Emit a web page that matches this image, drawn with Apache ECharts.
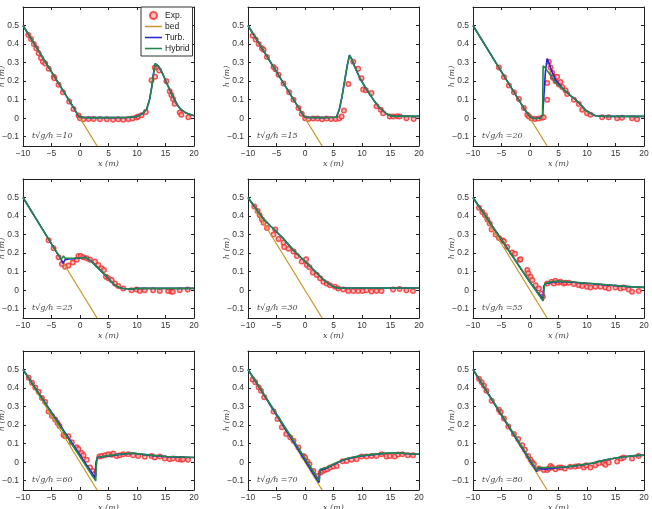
<!DOCTYPE html>
<html>
<head>
<meta charset="utf-8">
<script src="https://cdn.jsdelivr.net/npm/echarts@6/dist/echarts.min.js"></script>
<style>
  html,body{margin:0;padding:0;background:#fff;}
  #chart{width:652px;height:509px;}
</style>
</head>
<body>
<div id="chart"></div>
<script>
// time labels t*sqrt(g/h) for the 9 panels
var times = [10, 15, 20, 25, 30, 55, 60, 70, 80];
var xTicks = [-10, -5, 0, 5, 10, 15, 20];
var yTicks = [-0.1, 0, 0.1, 0.2, 0.3, 0.4, 0.5];

// sloping bed
var bed = [[-10, 0.5], [3, -0.15]];

// ---- hybrid model ----
var hyb10 = [[-10,0.5],[-5,0.25],[-1,0.05],[-0.3,0.012],[0.3,0.004],[2,0.003],[5,0.003],[8,0.004],[9,0.006],[10,0.01],[11,0.025],[11.7,0.05],[12.2,0.1],[12.6,0.17],[12.9,0.24],[13.2,0.295],[13.4,0.298],[13.8,0.28],[14.5,0.24],[15.2,0.19],[15.8,0.15],[16.4,0.11],[17,0.075],[17.6,0.05],[18.5,0.03],[20,0.013]];
var hyb15 = [[-10,0.5],[-5,0.25],[-1,0.05],[-0.2,0.01],[0.3,0.004],[3,0.003],[5.5,0.005],[6,0.045],[6.5,0.118],[7,0.209],[7.4,0.282],[7.8,0.34],[8.2,0.318],[8.8,0.273],[9.6,0.218],[10.8,0.155],[12,0.1],[13.1,0.055],[14.3,0.024],[15.2,0.011],[20,0.01]];
var hyb20 = [[-10,0.5],[-5,0.25],[-1,0.05],[0,0.008],[0.5,0],[1,-0.002],[1.8,0.002],[2.2,0.012],[2.3,0.282],[2.7,0.27],[3.5,0.235],[4.5,0.19],[5.5,0.165],[6.2,0.145],[7,0.125],[8,0.1],[9,0.07],[9.7,0.045],[10.5,0.028],[11.5,0.013],[13,0.01],[20,0.01]];
var hyb25 = [[-10,0.5],[-6,0.3],[-4,0.2],[-3.3,0.165],[-2.9,0.185],[-2.6,0.172],[-2,0.172],[-1,0.172],[0,0.174],[0.9,0.178],[2,0.155],[2.9,0.127],[3.8,0.1],[4.7,0.073],[5.5,0.045],[6.1,0.027],[7,0.013],[7.6,0.009],[9.3,0.006],[10,0.01],[20,0.01]];
var hyb30 = [[-10,0.5],[-7.3,0.385],[-6,0.345],[-4,0.285],[-2,0.215],[0,0.155],[1,0.125],[2,0.095],[3,0.063],[4,0.038],[5,0.018],[6,0.011],[8,0.012],[20,0.012]];
var hyb55 = [[-10,0.5],[-5,0.272],[0,0.043],[2.3,-0.058],[2.45,0],[2.6,0.036],[3.6,0.045],[5,0.049],[7.4,0.044],[10.9,0.036],[14.4,0.027],[17.9,0.018],[20,0.015]];
var hyb60 = [[-10,0.5],[2.76,-0.101],[2.85,-0.02],[3.05,0.025],[4.7,0.034],[7,0.043],[9.3,0.049],[12.3,0.038],[15.2,0.031],[20,0.025]];
var hyb70 = [[-10,0.5],[2.52,-0.1],[2.64,-0.038],[3.8,-0.029],[5.55,-0.002],[7.3,0.02],[9.6,0.034],[12,0.042],[14.3,0.049],[16.6,0.049],[20,0.043]];
var hyb80 = [[-10,0.5],[1.27,-0.047],[1.44,-0.029],[3.9,-0.029],[6.2,-0.025],[8.6,-0.016],[10.9,-0.005],[13.2,0.013],[15.6,0.025],[17.9,0.034],[20,0.038]];

// ---- turbulent model (hidden under hybrid where they agree) ----
var turb10 = hyb10;
var turb15 = hyb15;
var turb20 = [[-10,0.5],[-5,0.25],[-1,0.05],[0,0.008],[0.5,0],[1,-0.002],[1.8,0.002],[2.2,0.012],[2.4,0.1],[2.7,0.25],[3,0.322],[3.3,0.3],[3.8,0.255],[4.5,0.205],[5.5,0.168],[6.2,0.147],[7,0.125],[8,0.1],[9,0.07],[9.7,0.045],[10.5,0.028],[11.5,0.013],[13,0.01],[20,0.01]];
var turb25 = [[-10,0.5],[-6,0.3],[-4,0.2],[-3.3,0.165],[-3,0.145],[-2.6,0.165],[-2,0.168],[-1,0.17],[0,0.174],[0.9,0.178],[2,0.155],[2.9,0.127],[3.8,0.1],[4.7,0.073],[5.5,0.045],[6.1,0.027],[7,0.013],[7.6,0.009],[9.3,0.006],[10,0.01],[20,0.01]];
var turb30 = hyb30;
var turb55 = [[-10,0.5],[-5,0.272],[0,0.043],[2.3,-0.05],[2.4,0.02],[2.6,0.033],[3.6,0.042],[5,0.047],[7.4,0.043],[10.9,0.035],[14.4,0.026],[17.9,0.018],[20,0.015]];
var turb60 = [[-10,0.5],[2.64,-0.084],[2.8,0],[3.05,0.027],[4.7,0.033],[7,0.042],[9.3,0.048],[12.3,0.037],[15.2,0.03],[20,0.025]];
var turb70 = [[-10,0.5],[2.45,-0.11],[2.6,-0.045],[3.8,-0.032],[5.55,-0.005],[7.3,0.018],[9.6,0.033],[12,0.041],[14.3,0.048],[16.6,0.048],[20,0.043]];
var turb80 = [[-10,0.5],[1.2,-0.05],[1.4,-0.034],[2.7,-0.038],[4,-0.033],[6.2,-0.027],[8.6,-0.017],[10.9,-0.006],[13.2,0.012],[15.6,0.025],[17.9,0.034],[20,0.038]];

// ---- experiment ----
var exp10 = [[-9.07,0.449],[-8.6,0.427],[-8.1,0.4],[-7.67,0.378],[-7.26,0.35],[-6.85,0.325],[-6.5,0.305],[-6.1,0.295],[-5.5,0.267],[-4.6,0.224],[-4.5,0.216],[-3.77,0.18],[-3,0.14],[-1.9,0.09],[-1.15,0.05],[-0.27,0.015],[0,0],[0.6,-0.005],[1.5,-0.004],[2.4,-0.004],[3.5,-0.005],[4.7,-0.005],[5.8,-0.009],[6.7,-0.005],[7.6,-0.009],[8.5,-0.005],[9.2,-0.002],[9.9,0.004],[10.2,0.009],[10.8,0.016],[11.55,0.033],[12.54,0.205],[13.18,0.224],[13.12,0.273],[13.88,0.258],[15.16,0.2],[15.74,0.145],[16.03,0.125],[16.32,0.104],[16.6,0.078],[17.5,0.031],[17.78,0.018],[19,0.005]];
var exp15 = [[-9.18,0.445],[-8.66,0.424],[-8.14,0.4],[-7.55,0.378],[-7.26,0.369],[-6.68,0.33],[-5.52,0.276],[-5.17,0.264],[-4.64,0.235],[-3.77,0.187],[-2.78,0.14],[-2.02,0.1],[-1.15,0.055],[-0.57,0.024],[0.02,0],[0.6,-0.004],[1.4,-0.002],[2.2,-0.002],[3,-0.005],[3.8,-0.002],[4.6,-0.004],[5.4,-0.004],[6,-0.002],[6.42,0.009],[6.83,0.042],[7.6,0.185],[8.46,0.305],[9.33,0.267],[9.91,0.215],[10.2,0.155],[10.67,0.151],[11.66,0.136],[12.54,0.064],[13.3,0.045],[13.7,0.027],[14.87,0.009],[15.45,0.009],[16.2,0.011],[16.6,0.009],[17.8,0],[19.06,-0.004]];
var exp20 = [[-5.45,0.273],[-4.57,0.222],[-3.7,0.176],[-2.82,0.14],[-1.94,0.104],[-1.07,0.055],[-0.48,0.018],[-0.19,0.009],[0.3,-0.002],[0.9,-0.004],[1.5,-0.002],[2.1,0.002],[2.4,0.005],[3.02,0.1],[3.02,0.19],[3.31,0.305],[3.6,0.273],[3.9,0.245],[4,0.218],[4.18,0.224],[4.48,0.2],[4.77,0.224],[5.06,0.182],[5.35,0.195],[5.65,0.169],[6.23,0.151],[6.52,0.131],[7.69,0.1],[8.56,0.076],[9.15,0.045],[10,0.027],[10.6,0.018],[12.65,0.005],[13.8,0.005],[15.28,0],[16.15,0.002],[17.9,0],[18.78,-0.005]];
var exp25 = [[-5.52,0.269],[-4.64,0.227],[-3.77,0.178],[-3.19,0.142],[-2.6,0.127],[-2.02,0.133],[-1.26,0.149],[-0.57,0.164],[-0.27,0.185],[0.13,0.185],[0.6,0.178],[1.18,0.173],[1.76,0.164],[2.64,0.155],[3.22,0.136],[3.8,0.118],[4.2,0.109],[4.56,0.073],[4.97,0.064],[5.55,0.055],[6.13,0.036],[6.72,0.022],[7.59,0.009],[9.04,0],[9.9,0.004],[10.5,-0.004],[11.37,0],[12.83,0],[14,-0.004],[15.45,-0.004],[16.03,-0.007],[16.3,-0.009],[17.5,0],[18.9,0.004]];
var exp30 = [[-8.9,0.451],[-8.31,0.427],[-7.96,0.405],[-7.55,0.382],[-7.26,0.364],[-6.68,0.336],[-5.52,0.3],[-5.22,0.327],[-4.64,0.276],[-3.77,0.258],[-3.65,0.233],[-2.9,0.224],[-2.02,0.209],[-1.44,0.185],[-0.57,0.155],[0.19,0.167],[0.31,0.136],[0.77,0.124],[1.36,0.095],[2.06,0.082],[2.64,0.064],[3.22,0.045],[3.8,0.036],[4.39,0.027],[5.26,0.018],[5.84,0.009],[6.72,0.004],[7.59,-0.004],[8.46,-0.004],[9.34,-0.004],[10.1,-0.004],[10.8,0],[11.67,-0.007],[12.54,-0.004],[13.41,-0.004],[15.45,0.004],[16.6,0.007],[17.78,0],[18.95,-0.004]];
var exp55 = [[-8.95,0.445],[-8.37,0.422],[-7.9,0.404],[-7.49,0.382],[-7.08,0.36],[-6.73,0.327],[-6.03,0.3],[-5.45,0.282],[-4.86,0.269],[-4.57,0.264],[-3.99,0.233],[-3.11,0.204],[-2.64,0.196],[-1.83,0.164],[-1.65,0.167],[-0.48,0.109],[-0.31,0.091],[0.1,0.073],[0.39,0.055],[0.98,0.027],[1.56,0.009],[2.03,-0.018],[2.26,-0.036],[3.02,0.036],[3.78,0.045],[4.19,0.036],[4.48,0.051],[4.95,0.04],[5.35,0.045],[5.94,0.036],[6.23,0.04],[6.81,0.04],[7.69,0.033],[8.56,0.027],[9.15,0.022],[10.02,0.018],[10.6,0.015],[11.48,0.018],[12.36,0.018],[13.23,0.015],[13.82,0.009],[14.98,0.015],[15.86,0.009],[16.44,0.015],[17.32,0.004],[17.9,-0.009],[19.07,-0.004]];
var exp60 = [[-9,0.456],[-8.43,0.429],[-7.85,0.403],[-7.26,0.38],[-6.68,0.347],[-6.1,0.325],[-5.52,0.274],[-4.93,0.249],[-4.35,0.231],[-3.94,0.212],[-3.6,0.195],[-2.9,0.147],[-2.6,0.14],[-2.02,0.14],[-1.44,0.107],[-0.57,0.08],[-0.27,0.071],[0.3,0.049],[0.6,0.038],[1.18,0.013],[1.76,-0.029],[2.23,-0.047],[2.46,-0.065],[3.4,0.031],[3.8,0.034],[4.39,0.038],[4.97,0.043],[5.55,0.04],[5.84,0.047],[6.42,0.034],[7,0.038],[7.59,0.043],[8.46,0.043],[9.34,0.038],[10.2,0.034],[11.37,0.029],[12.54,0.034],[13.12,0.025],[14,0.031],[14.87,0.02],[15.74,0.016],[16.32,0.02],[17.2,0.016],[17.78,0.013],[18.07,0.016],[18.95,0.013]];
var exp70 = [[-9.18,0.446],[-8.72,0.431],[-8.14,0.404],[-7.73,0.386],[-7.15,0.35],[-5.52,0.273],[-4.82,0.233],[-4.06,0.188],[-3.3,0.152],[-2.6,0.134],[-2.02,0.116],[-1.15,0.079],[-0.27,0.034],[0.02,0.025],[0.43,0.004],[0.77,-0.011],[1.47,-0.047],[2.06,-0.074],[2.75,-0.056],[3.1,-0.047],[3.51,-0.042],[3.92,-0.038],[4.39,-0.029],[4.97,-0.023],[5.55,-0.02],[6.6,0.005],[7.3,0.007],[8.17,0.013],[9.04,0.016],[9.92,0.031],[10.8,0.031],[11.67,0.034],[12.54,0.034],[13.41,0.043],[14.29,0.031],[14.87,0.034],[15.74,0.031],[16.32,0.042],[17.08,0.043],[18.07,0.038],[18.95,0.038]];
var exp80 = [[-8.95,0.45],[-8.48,0.431],[-8.07,0.413],[-7.66,0.386],[-6.73,0.332],[-5.45,0.283],[-5.15,0.269],[-4.57,0.236],[-3.81,0.193],[-2.82,0.152],[-2.06,0.125],[-1.36,0.092],[-0.89,0.067],[-0.31,0.034],[0.1,0.013],[0.39,-0.002],[0.68,-0.011],[1.56,-0.034],[2.43,-0.042],[3.02,-0.042],[3.31,-0.034],[3.6,-0.02],[3.9,-0.029],[4.48,-0.038],[5.06,-0.029],[5.53,-0.029],[6.11,-0.034],[7.1,-0.025],[7.98,-0.023],[8.56,-0.02],[9.44,-0.029],[9.85,-0.016],[10.6,-0.029],[11.48,-0.016],[12.07,-0.005],[12.94,-0.005],[13.23,-0.014],[13.82,-0.002],[15.28,0.004],[16.04,0.02],[16.44,0.025],[17.9,0.02],[19.07,0.034]];

var hybAll = [hyb10, hyb15, hyb20, hyb25, hyb30, hyb55, hyb60, hyb70, hyb80];
var turbAll = [turb10, turb15, turb20, turb25, turb30, turb55, turb60, turb70, turb80];
var expAll = [exp10, exp15, exp20, exp25, exp30, exp55, exp60, exp70, exp80];

var colLeft = [23, 248, 473];
var rowTop = [7, 179, 351];
var W = 171, H = 139;

var cRed = '#f42a2a', cBed = '#c89a2e', cBlue = '#2424d8', cGreen = '#23874a';
var numFmt = function (v) { return v < 0 ? '\u2212' + Math.abs(v) : String(v); };
var italic = {fontFamily: 'DejaVu Serif', fontStyle: 'italic', fontSize: 8, color: '#444'};
var tickFont = {fontSize: 8.5, fontFamily: 'Liberation Sans', color: '#333', margin: 4, formatter: numFmt};
var lineIcon = 'path://M0,0H20V1.8H0Z';

var grids = [], xAxes = [], yAxes = [], series = [], graphics = [];
for (var i = 0; i < 9; i++) {
    var c = i % 3, r = Math.floor(i / 3);
    grids.push({left: colLeft[c], top: rowTop[r], width: W, height: H, outerBoundsMode: 'none', containLabel: false});
    var lineSt = {show: true, onZero: false, lineStyle: {color: '#222', width: 1}};
    var tickSt = {inside: true, length: 3, lineStyle: {color: '#222'}};
    // bottom and left axes carry labels, top and right only ticks
    xAxes.push({
        gridIndex: i, type: 'value', min: -10, max: 20, interval: 5, position: 'bottom',
        axisLine: lineSt, axisTick: tickSt,
        axisLabel: Object.assign({}, tickFont, {margin: 3}),
        splitLine: {show: false},
        name: 'x (m)', nameLocation: 'middle', nameGap: 13.5, nameMoveOverlap: false, nameTextStyle: italic
    });
    xAxes.push({
        gridIndex: i, type: 'value', min: -10, max: 20, interval: 5, position: 'top',
        axisLine: lineSt, axisTick: tickSt,
        axisLabel: {show: false}, splitLine: {show: false}
    });
    yAxes.push({
        gridIndex: i, type: 'value', min: -0.15, max: 0.6, position: 'left',
        axisLine: lineSt,
        axisTick: {inside: true, length: 3, customValues: yTicks, lineStyle: {color: '#222'}},
        axisLabel: Object.assign({customValues: yTicks}, tickFont),
        splitLine: {show: false},
        name: 'h (m)', nameLocation: 'middle', nameGap: 17, nameRotate: 90, nameMoveOverlap: false, nameTextStyle: italic
    });
    yAxes.push({
        gridIndex: i, type: 'value', min: -0.15, max: 0.6, position: 'right',
        axisLine: lineSt,
        axisTick: {inside: true, length: 3, customValues: yTicks, lineStyle: {color: '#222'}},
        axisLabel: {show: false}, splitLine: {show: false}
    });

    series.push({
        name: 'Exp.', type: 'scatter', xAxisIndex: 2 * i, yAxisIndex: 2 * i,
        data: expAll[i], symbol: 'circle', symbolSize: 4.5, z: 2,
        itemStyle: {color: '#ffb0b0', borderColor: cRed, borderWidth: 1.5}
    });
    series.push({
        name: 'bed', type: 'line', xAxisIndex: 2 * i, yAxisIndex: 2 * i,
        data: bed, showSymbol: false, symbol: 'none', z: 3,
        lineStyle: {color: cBed, width: 1.3}, itemStyle: {color: cBed}
    });
    series.push({
        name: 'Turb.', type: 'line', xAxisIndex: 2 * i, yAxisIndex: 2 * i,
        data: turbAll[i], showSymbol: false, symbol: 'none', z: 4,
        lineStyle: {color: cBlue, width: 1.6}, itemStyle: {color: cBlue}
    });
    series.push({
        name: 'Hybrid', type: 'line', xAxisIndex: 2 * i, yAxisIndex: 2 * i,
        data: hybAll[i], showSymbol: false, symbol: 'none', z: 5,
        lineStyle: {color: cGreen, width: 1.6}, itemStyle: {color: cGreen}
    });

    graphics.push({
        type: 'text', left: colLeft[c] + 9, top: rowTop[r] + 125, z: 10,
        style: {text: 't\u221Ag/h =' + times[i], font: 'italic 8px "DejaVu Serif"', fill: '#444'}
    });
}

var chart = echarts.init(document.getElementById('chart'), null, {renderer: 'canvas'});
chart.setOption({
    backgroundColor: '#fff',
    animation: false,
    grid: grids,
    xAxis: xAxes,
    yAxis: yAxes,
    legend: {
        left: 141, top: 7, orient: 'vertical',
        data: [
            {name: 'Exp.'},
            {name: 'bed', icon: lineIcon},
            {name: 'Turb.', icon: lineIcon},
            {name: 'Hybrid', icon: lineIcon}
        ],
        itemWidth: 17, itemHeight: 7, itemGap: 2, symbolKeepAspect: true,
        padding: [4, 3, 3, 4],
        backgroundColor: '#fff', borderColor: '#333', borderWidth: 1,
        textStyle: {fontSize: 8.5, lineHeight: 8, fontFamily: 'Liberation Sans', color: '#222', padding: [0, 0, 0, -2]},
        selectedMode: false
    },
    graphic: graphics,
    series: series
});
</script>
</body>
</html>
